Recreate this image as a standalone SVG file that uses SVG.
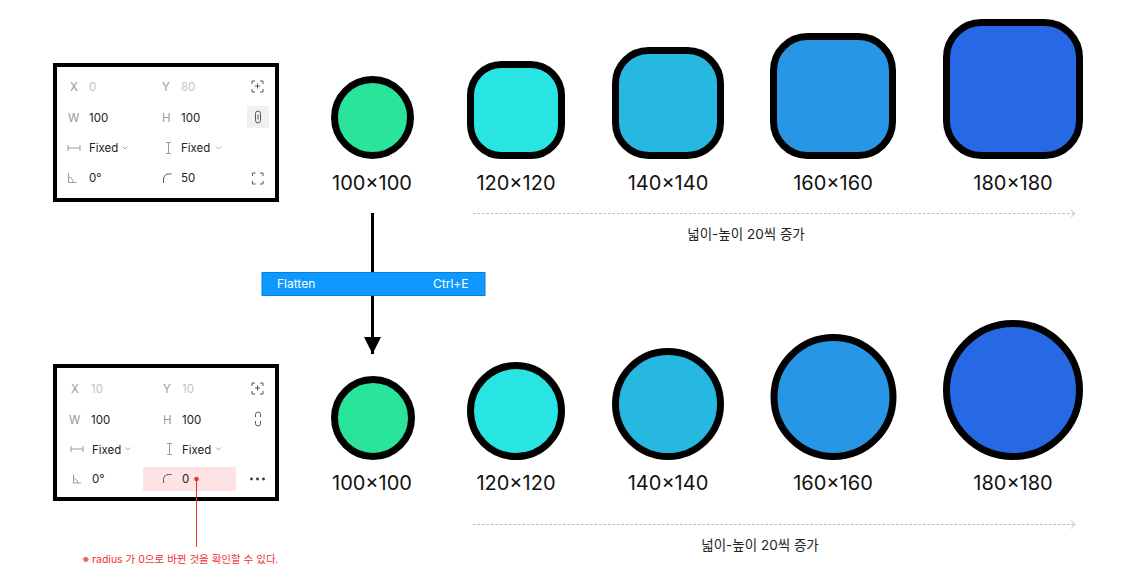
<svg xmlns="http://www.w3.org/2000/svg" width="1142" height="583" viewBox="0 0 1142 583">
<defs>
<style>
.panel{fill:#fff;stroke:#000;stroke-width:4}
.lbl{font-family:Inter,"Noto Sans",sans-serif;font-size:11.5px;fill:#9a9a9a}
.val{font-family:Inter,"Noto Sans",sans-serif;font-size:11.5px;fill:#222}
.dis{font-family:Inter,"Noto Sans",sans-serif;font-size:11.5px;fill:#c4c4c4}
.ico{fill:none;stroke:#555;stroke-width:1}
.icog{fill:none;stroke:#9a9a9a;stroke-width:1}
.chev{fill:none;stroke:#aaa;stroke-width:1}
.shape{stroke:#000;stroke-width:7}
.size{font-family:Inter,"Noto Sans",sans-serif;font-size:20px;fill:#111;text-anchor:middle}
.cap{font-family:Inter,"Noto Sans CJK KR",sans-serif;font-size:13.5px;fill:#222;text-anchor:middle}
.dash{fill:none;stroke:#bbb;stroke-width:1;stroke-dasharray:2.5 2}
.dashhead{fill:none;stroke:#bbb;stroke-width:1}
</style>
<marker id="ah" viewBox="0 0 10 10" refX="10" refY="5" markerWidth="20" markerHeight="17" markerUnits="userSpaceOnUse" orient="auto">
<path d="M0,0 L10,5 L0,10 Z" fill="#000"/>
</marker>
</defs>
<rect width="1142" height="583" fill="#fff"/>

<g id="panel-top">
<rect class="panel" x="55" y="65" width="222" height="135"/>
<text class="lbl" x="70" y="91">X</text><text class="dis" x="89" y="91">0</text>
<text class="lbl" x="162" y="91">Y</text><text class="dis" x="181" y="91">80</text>
<path class="ico" d="M252,84 v-3 h3 M260,81 h3 v3 M263,89 v3 h-3 M255,92 h-3 v-3 M257.5,83.5 v5 M255,86 h5"/>
<text class="lbl" x="68" y="121.5">W</text><text class="val" x="89" y="121.5">100</text>
<text class="lbl" x="162" y="121.5">H</text><text class="val" x="181" y="121.5">100</text>
<rect x="247" y="106" width="22" height="22" fill="#f0f0f0"/>
<rect class="ico" x="255.5" y="111" width="5" height="12" rx="2.5"/>
<path class="ico" d="M258,114.5 v5"/>
<path class="icog" d="M68,145 v6 M68,148 h12 M80,145 v6"/>
<text class="val" x="89" y="151.5">Fixed</text>
<path class="chev" d="M122.5,146.5 l2.5,2.5 l2.5,-2.5"/>
<path class="icog" d="M166,142.5 h5 M168.5,142.5 v11 M166,153.5 h5"/>
<text class="val" x="181" y="151.5">Fixed</text>
<path class="chev" d="M216,146.5 l2.5,2.5 l2.5,-2.5"/>
<path class="icog" d="M68.5,173 v9.5 h8 M68.5,177 a5,5 0 0 1 4.5,5.5"/>
<text class="val" x="89" y="182">0°</text>
<path class="ico" d="M163.5,183 v-4 a5,5 0 0 1 5,-5 h3"/>
<text class="val" x="181" y="182">50</text>
<path class="ico" d="M252.5,176 v-3 h3 M260,173 h3 v3 M263,181 v3 h-3 M255.5,184 h-3 v-3"/>
</g>

<g id="panel-bottom">
<rect class="panel" x="55" y="366" width="222" height="133"/>
<text class="lbl" x="71" y="392.5">X</text><text class="dis" x="91" y="392.5">10</text>
<text class="lbl" x="163" y="392.5">Y</text><text class="dis" x="182" y="392.5">10</text>
<path class="ico" d="M252,386 v-3 h3 M260,383 h3 v3 M263,391 v3 h-3 M255,394 h-3 v-3 M257.5,385.5 v5 M255,388 h5"/>
<text class="lbl" x="69" y="423.5">W</text><text class="val" x="91" y="423.5">100</text>
<text class="lbl" x="163" y="423.5">H</text><text class="val" x="182" y="423.5">100</text>
<path class="ico" d="M255.5,417 v-2.5 a2.5,2.5 0 0 1 5,0 v2.5 M255.5,421 v2.5 a2.5,2.5 0 0 0 5,0 v-2.5"/>
<path class="icog" d="M71,446 v6 M71,449 h12 M83,446 v6"/>
<text class="val" x="92" y="453.5">Fixed</text>
<path class="chev" d="M125.5,447.5 l2.5,2.5 l2.5,-2.5"/>
<path class="icog" d="M167,443.5 h5 M169.5,443.5 v11 M167,454.5 h5"/>
<text class="val" x="182" y="453.5">Fixed</text>
<path class="chev" d="M216,447.5 l2.5,2.5 l2.5,-2.5"/>
<rect x="143" y="467" width="93" height="24" fill="#fde3e3"/>
<path class="icog" d="M73.5,474.5 v8.5 h7.5 M73.5,478.5 a4.5,4.5 0 0 1 4,4.5"/>
<text class="val" x="92" y="482.5">0°</text>
<path class="ico" d="M163.5,483 v-3.5 a5,5 0 0 1 5,-5 h3"/>
<text class="val" x="182" y="482.5">0</text>
<circle cx="251.5" cy="479" r="1.4" fill="#333"/>
<circle cx="257.5" cy="479" r="1.4" fill="#333"/>
<circle cx="263.5" cy="479" r="1.4" fill="#333"/>
</g>

<g id="shapes-top">
<circle class="shape" cx="372.5" cy="117.5" r="38" fill="#2ae49c"/>
<rect class="shape" x="470.5" y="64.5" width="91" height="91" rx="31" fill="#28e5e4"/>
<rect class="shape" x="615.5" y="50.5" width="105" height="105" rx="33" fill="#27b8e2"/>
<rect class="shape" x="773.5" y="36.5" width="119" height="119" rx="34" fill="#2796e4"/>
<rect class="shape" x="946.5" y="22.5" width="133" height="133" rx="35" fill="#2768e4"/>
</g>
<g id="labels-top">
<text class="size" x="372" y="189.5">100×100</text>
<text class="size" x="516" y="189.5">120×120</text>
<text class="size" x="668" y="189.5">140×140</text>
<text class="size" x="833" y="189.5">160×160</text>
<text class="size" x="1013" y="189.5">180×180</text>
</g>

<g id="shapes-bottom">
<circle class="shape" cx="373" cy="418" r="38.5" fill="#2ae49c"/>
<circle class="shape" cx="516" cy="411" r="45.5" fill="#28e5e4"/>
<circle class="shape" cx="668" cy="404" r="52.5" fill="#27b8e2"/>
<circle class="shape" cx="833.5" cy="397" r="59.5" fill="#2796e4"/>
<circle class="shape" cx="1013" cy="390" r="66.5" fill="#2768e4"/>
</g>
<g id="labels-bottom">
<text class="size" x="372" y="490">100×100</text>
<text class="size" x="516" y="490">120×120</text>
<text class="size" x="668" y="490">140×140</text>
<text class="size" x="833" y="490">160×160</text>
<text class="size" x="1013" y="490">180×180</text>
</g>

<g id="connectors">
<line x1="372.5" y1="213" x2="372.5" y2="354" stroke="#000" stroke-width="3" marker-end="url(#ah)"/>
<line class="dash" x1="473" y1="213.5" x2="1075" y2="213.5"/>
<path class="dashhead" d="M1071,209.5 l4,4 l-4,4"/>
<line class="dash" x1="473" y1="524.5" x2="1075" y2="524.5"/>
<path class="dashhead" d="M1071,520.5 l4,4 l-4,4"/>
<line x1="196.5" y1="479" x2="196.5" y2="547" stroke="#f0302f" stroke-width="1"/>
<circle cx="196.5" cy="479" r="2.3" fill="#f0302f"/>
</g>

<g id="flatten-menu">
<rect x="262" y="272.5" width="223" height="23" fill="#0d99ff" stroke="#0a7fd6" stroke-width="1"/>
<text x="277" y="288" font-family="Inter,'Noto Sans',sans-serif" font-size="12" fill="#fff">Flatten</text>
<text x="468.5" y="288" font-family="Inter,'Noto Sans',sans-serif" font-size="12" fill="#fff" text-anchor="end">Ctrl+E</text>
</g>

<g id="captions">
<text class="cap" x="746" y="239">넓이-높이 20씩 증가</text>
<text class="cap" x="760" y="550">넓이-높이 20씩 증가</text>
<text x="180.5" y="562.5" font-family="Inter,'Noto Sans CJK KR',sans-serif" font-size="10.5" fill="#f0302f" text-anchor="middle">※ radius 가 0으로 바뀐 것을 확인할 수 있다.</text>
</g>
</svg>
